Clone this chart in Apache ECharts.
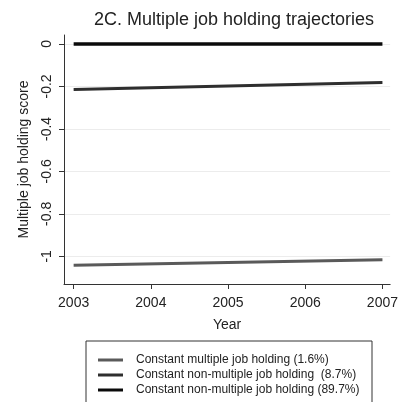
<!DOCTYPE html>
<html>
<head>
<meta charset="utf-8">
<script src="https://cdn.jsdelivr.net/npm/echarts@6/dist/echarts.min.js"></script>
<style>
  html, body { margin: 0; padding: 0; background: #fff; }
  #chart { width: 401px; height: 402px; }
</style>
</head>
<body>
<div id="chart"></div>
<script>
// Years on the x axis
const years = [2003, 2007];
// Fitted trajectories per group (linear, start and end year)
const multipleHolding = [-1.042, -1.016];
const nonMultipleSmall = [-0.214, -0.181];
const nonMultipleLarge = [0, 0];
// Group names shown in the legend
const seriesNames = [
  'Constant multiple job holding (1.6%)',
  'Constant non-multiple job holding  (8.7%)',
  'Constant non-multiple job holding (89.7%)'
];
// Tick positions
const xTicks = [2003, 2004, 2005, 2006, 2007];
const yTicks = [0, -0.2, -0.4, -0.6, -0.8, -1];

const font = '"Liberation Sans", Arial, sans-serif';
const toPairs = vals => years.map((y, i) => [y, vals[i]]);

const chart = echarts.init(document.getElementById('chart'), null, { renderer: 'canvas' });
chart.setOption({
  backgroundColor: '#ffffff',
  animation: false,
  title: {
    text: '2C. Multiple job holding trajectories',
    left: 229, top: 6, textAlign: 'center',
    textStyle: { fontFamily: font, fontSize: 18, fontWeight: 'normal', color: '#222' }
  },
  grid: { left: 64, right: 8, top: 35, bottom: 118 },
  legend: {
    orient: 'vertical',
    left: 93, top: 349, height: 60, width: 270,
    itemWidth: 25, itemHeight: 3, itemGap: 3,
    icon: 'rect',
    textStyle: { fontFamily: font, fontSize: 12, color: '#222', padding: [0, 0, 0, 8] },
    data: seriesNames
  },
  graphic: [{
    type: 'rect',
    shape: { x: 86, y: 341, width: 286, height: 70 },
    style: { fill: 'none', stroke: '#333', lineWidth: 1 },
    silent: true
  }],
  xAxis: {
    type: 'value',
    min: 2002.875, max: 2007.1,
    name: 'Year', nameLocation: 'middle', nameGap: 34,
    nameTextStyle: { fontFamily: font, fontSize: 14, color: '#222' },
    axisLine: { show: true, onZero: false, lineStyle: { color: '#333', width: 1 } },
    axisTick: { show: true, length: 5, customValues: xTicks, lineStyle: { color: '#333' } },
    axisLabel: {
      customValues: xTicks, margin: 12,
      fontFamily: font, fontSize: 14, color: '#222',
      formatter: v => String(v)
    },
    splitLine: { show: false }
  },
  yAxis: {
    type: 'value',
    min: -1.13, max: 0.042,
    name: 'Multiple job holding score', nameLocation: 'middle', nameGap: 33,
    nameRotate: 90,
    nameTextStyle: { fontFamily: font, fontSize: 14, color: '#222' },
    axisLine: { show: true, onZero: false, lineStyle: { color: '#333', width: 1 } },
    axisTick: { show: true, length: 5, customValues: yTicks, lineStyle: { color: '#333' } },
    axisLabel: {
      customValues: yTicks, rotate: 90, margin: 10,
      fontFamily: font, fontSize: 14, color: '#222',
      formatter: v => String(v)
    },
    splitLine: { show: true, lineStyle: { color: '#ececec', width: 1 } }
  },
  series: [
    {
      name: seriesNames[0], type: 'line', data: toPairs(multipleHolding),
      showSymbol: false, color: '#5a5a5a', lineStyle: { width: 3, color: '#5a5a5a' }
    },
    {
      name: seriesNames[1], type: 'line', data: toPairs(nonMultipleSmall),
      showSymbol: false, color: '#2e2e2e', lineStyle: { width: 3, color: '#2e2e2e' }
    },
    {
      name: seriesNames[2], type: 'line', data: toPairs(nonMultipleLarge),
      showSymbol: false, color: '#0a0a0a', lineStyle: { width: 3.5, color: '#0a0a0a' }
    }
  ]
});
</script>
</body>
</html>
